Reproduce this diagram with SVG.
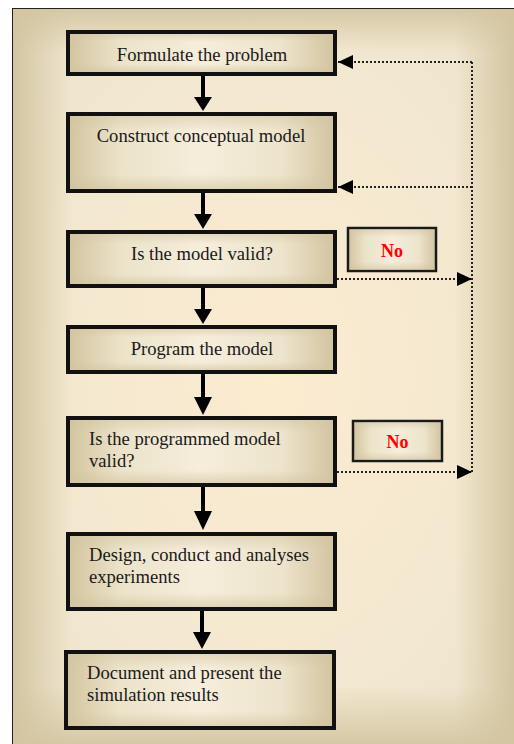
<svg xmlns="http://www.w3.org/2000/svg" width="514" height="744" viewBox="0 0 514 744">
  <defs>
    <!-- soft beige panel: light core, darker rim -->
    <linearGradient id="rimH" x1="0" y1="0" x2="1" y2="0">
      <stop offset="0" stop-color="#d3c5a0" stop-opacity="1"/>
      <stop offset="0.12" stop-color="#d3c5a0" stop-opacity="0"/>
      <stop offset="0.88" stop-color="#d3c5a0" stop-opacity="0"/>
      <stop offset="1" stop-color="#d3c5a0" stop-opacity="1"/>
    </linearGradient>
    <linearGradient id="rimV" x1="0" y1="0" x2="0" y2="1">
      <stop offset="0" stop-color="#d3c5a0" stop-opacity="0.9"/>
      <stop offset="0.06" stop-color="#d3c5a0" stop-opacity="0"/>
      <stop offset="0.92" stop-color="#d3c5a0" stop-opacity="0"/>
      <stop offset="1" stop-color="#d3c5a0" stop-opacity="0.9"/>
    </linearGradient>
    <radialGradient id="core" cx="0.5" cy="0.5" r="0.6">
      <stop offset="0" stop-color="#fcecd0"/>
      <stop offset="1" stop-color="#efe6d0"/>
    </radialGradient>
    <!-- box fill -->
    <linearGradient id="boxH" x1="0" y1="0" x2="1" y2="0">
      <stop offset="0" stop-color="#d2c49f"/>
      <stop offset="0.2" stop-color="#ece3ca"/>
      <stop offset="0.5" stop-color="#f6eddb"/>
      <stop offset="0.8" stop-color="#ede4cc"/>
      <stop offset="1" stop-color="#d2c49f"/>
    </linearGradient>
    <linearGradient id="boxV" x1="0" y1="0" x2="0" y2="1">
      <stop offset="0" stop-color="#d2c49f" stop-opacity="0.5"/>
      <stop offset="0.2" stop-color="#d2c49f" stop-opacity="0"/>
      <stop offset="0.8" stop-color="#d2c49f" stop-opacity="0"/>
      <stop offset="1" stop-color="#d2c49f" stop-opacity="0.6"/>
    </linearGradient>
    <marker id="dotHead" viewBox="0 0 15 14" refX="15" refY="7" markerWidth="15" markerHeight="14" markerUnits="userSpaceOnUse" orient="auto">
      <path d="M0,0 L15,7 L0,14 Z" fill="#000"/>
    </marker>
  </defs>
  <style>
    .box { stroke: #111; stroke-width: 4; }
    .nobox { stroke: #1a1a1a; stroke-width: 2.5; }
    .lbl { font-family: "Liberation Serif", "Times New Roman", serif; font-size: 18.6px; fill: #1a1a1a; }
    .no { font-family: "Liberation Serif", "Times New Roman", serif; font-size: 18px; font-weight: bold; fill: #ff0000; text-anchor: middle; }
    .c { text-anchor: middle; }
    .shaft { stroke: #000; stroke-width: 4; fill: none; }
    .head { fill: #000; }
    .dot { stroke: #222; stroke-width: 2; stroke-dasharray: 2 2; fill: none; }
  </style>

  <!-- panel -->
  <g id="panel">
    <rect x="12.5" y="8.5" width="520" height="740" fill="url(#core)"/>
    <rect x="12.5" y="8.5" width="502" height="740" fill="url(#rimH)"/>
    <rect x="12.5" y="8.5" width="502" height="736" fill="url(#rimV)"/>
    <rect x="12.5" y="8.5" width="520" height="740" fill="none" stroke="#222" stroke-width="1"/>
  </g>

  <!-- connectors -->
  <g id="connectors">
    <line class="shaft" x1="203" y1="76" x2="203" y2="98"/>
    <path class="head" d="M194,97 L212,97 L203,111 Z"/>
    <line class="shaft" x1="203" y1="193" x2="203" y2="215"/>
    <path class="head" d="M194,214 L212,214 L203,229 Z"/>
    <line class="shaft" x1="203" y1="288" x2="203" y2="310"/>
    <path class="head" d="M194,309 L212,309 L203,324 Z"/>
    <line class="shaft" x1="203" y1="374" x2="203" y2="398"/>
    <path class="head" d="M194,397 L212,397 L203,415 Z"/>
    <line class="shaft" x1="203" y1="487" x2="203" y2="512"/>
    <path class="head" d="M194,511 L212,511 L203,530 Z"/>
    <line class="shaft" x1="202" y1="611" x2="202" y2="633"/>
    <path class="head" d="M193,632 L211,632 L202,649 Z"/>

    <!-- rejection loops -->
    <path class="dot" d="M337,279 L472,279" marker-end="url(#dotHead)"/>
    <path class="dot" d="M337,472 L472,472" marker-end="url(#dotHead)"/>
    <path class="dot" d="M472,472 L472,62"/>
    <path class="dot" d="M472,62 L338,62" marker-end="url(#dotHead)"/>
    <path class="dot" d="M472,187 L338,187" marker-end="url(#dotHead)"/>
  </g>

  <g id="formulate">
    <rect class="box" x="68" y="32" width="267" height="42" fill="url(#boxH)"/>
    <rect x="70" y="34" width="263" height="38" fill="url(#boxV)"/>
    <text class="lbl c" x="202" y="60.5">Formulate the problem</text>
  </g>

  <g id="conceptual">
    <rect class="box" x="68" y="114" width="267" height="77" fill="url(#boxH)"/>
    <rect x="70" y="116" width="263" height="73" fill="url(#boxV)"/>
    <text class="lbl c" x="201" y="142">Construct conceptual model</text>
  </g>

  <g id="valid">
    <rect class="box" x="68" y="232" width="267" height="54" fill="url(#boxH)"/>
    <rect x="70" y="234" width="263" height="50" fill="url(#boxV)"/>
    <text class="lbl c" x="202" y="260">Is the model valid?</text>
  </g>

  <g id="no1">
    <rect class="nobox" x="348" y="228" width="88" height="43" fill="url(#boxH)"/>
    <rect x="349.5" y="229.5" width="85" height="40" fill="url(#boxV)"/>
    <text class="no" x="392" y="257">No</text>
  </g>

  <g id="program">
    <rect class="box" x="68" y="327" width="267" height="45" fill="url(#boxH)"/>
    <rect x="70" y="329" width="263" height="41" fill="url(#boxV)"/>
    <text class="lbl c" x="202" y="355">Program the model</text>
  </g>

  <g id="programmedValid">
    <rect class="box" x="68" y="418" width="267" height="67" fill="url(#boxH)"/>
    <rect x="70" y="420" width="263" height="63" fill="url(#boxV)"/>
    <text class="lbl" x="89" y="445">Is the programmed model</text>
    <text class="lbl" x="89" y="466.5">valid?</text>
  </g>

  <g id="no2">
    <rect class="nobox" x="353" y="421" width="89" height="40" fill="url(#boxH)"/>
    <rect x="354.5" y="422.5" width="86" height="37" fill="url(#boxV)"/>
    <text class="no" x="397.5" y="448">No</text>
  </g>

  <g id="experiments">
    <rect class="box" x="68" y="534" width="267" height="75" fill="url(#boxH)"/>
    <rect x="70" y="536" width="263" height="71" fill="url(#boxV)"/>
    <text class="lbl" x="89" y="561">Design, conduct and analyses</text>
    <text class="lbl" x="89" y="583">experiments</text>
  </g>

  <g id="document">
    <rect class="box" x="66" y="652" width="268" height="76" fill="url(#boxH)"/>
    <rect x="68" y="654" width="264" height="72" fill="url(#boxV)"/>
    <text class="lbl" x="87" y="679">Document and present the</text>
    <text class="lbl" x="87" y="701">simulation results</text>
  </g>
</svg>
